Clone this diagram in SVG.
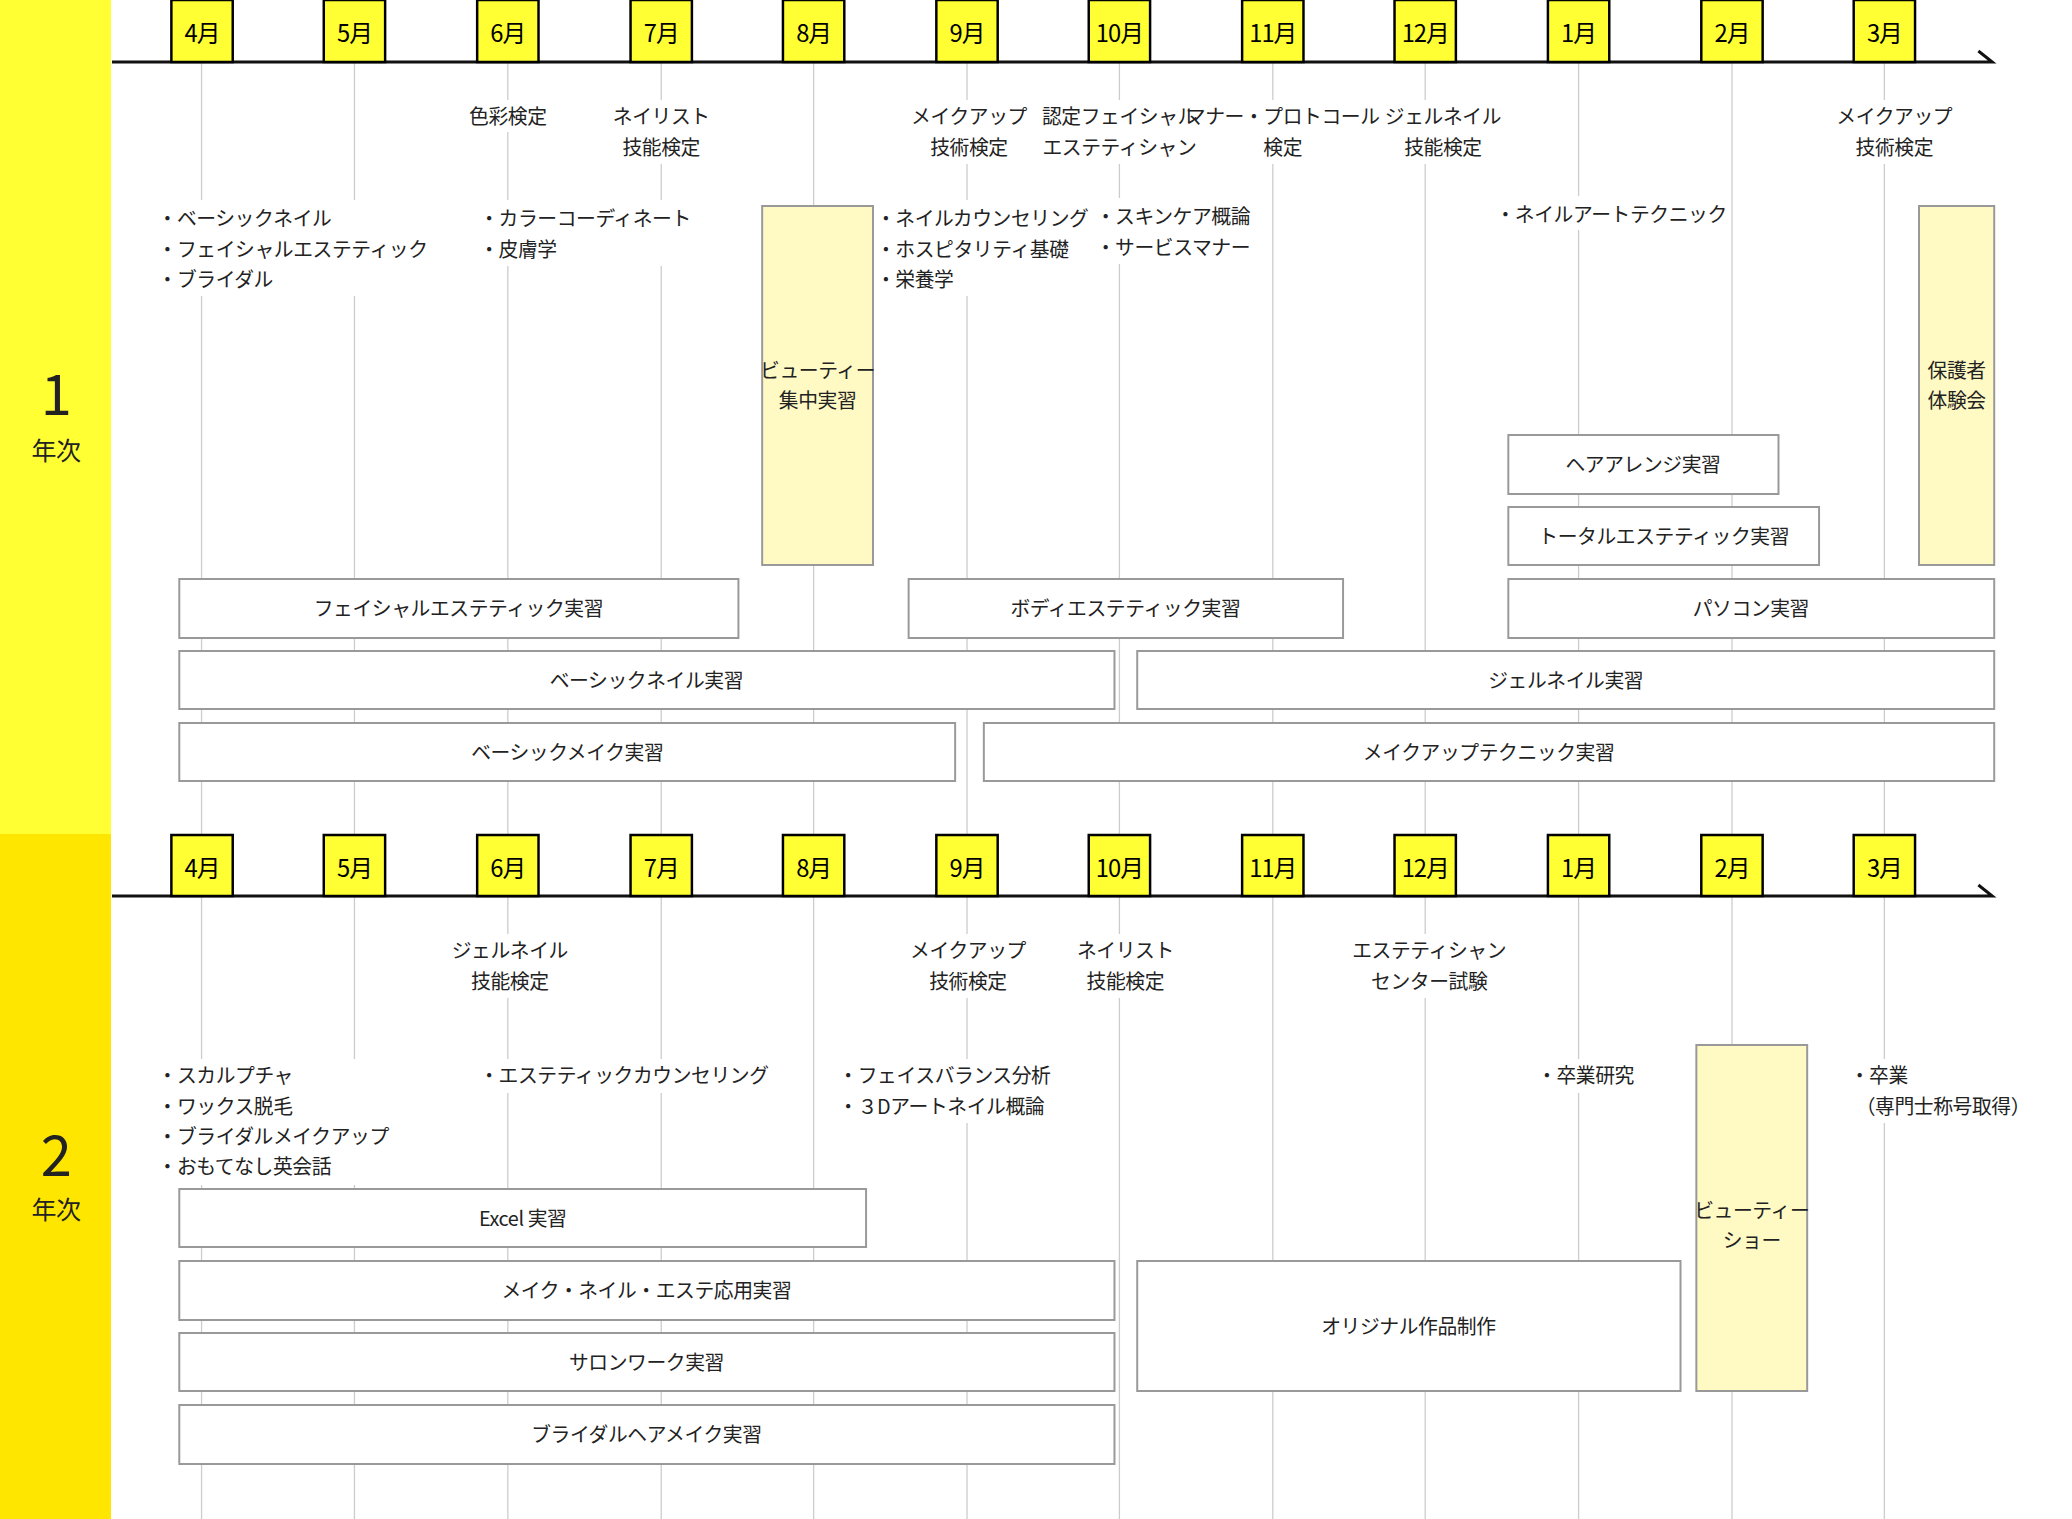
<svg xmlns="http://www.w3.org/2000/svg" width="2072" height="1519" viewBox="0 0 2072 1519">
<style>
text{font-family:"Noto Sans CJK JP","Noto Sans",sans-serif;font-size:20px;fill:#222;letter-spacing:-0.4px}
.c{text-anchor:middle}
.m{font-size:24px;text-anchor:middle;fill:#000;letter-spacing:-1px}
.mb{fill:#ffff33;stroke:#000;stroke-width:2.5}
.g{stroke:#ccc;stroke-width:1.3}
.b{fill:#fff;stroke:#999;stroke-width:2}
.y{fill:#fff9c4;stroke:#999;stroke-width:2}
.ax{stroke:#111;stroke-width:3;fill:none}
.w{fill:#fff}
</style>
<rect width="2072" height="1519" fill="#fff"/>
<rect x="0" y="0" width="111" height="834" fill="#ffff33"/>
<rect x="0" y="834" width="111" height="685" fill="#ffe600"/>
<g id="labels">
<text x="56" y="415" class="c" style="font-size:56px">1</text>
<text x="56" y="460" class="c" style="font-size:25px">年次</text>
<text x="56" y="1176" class="c" style="font-size:56px">2</text>
<text x="56" y="1219" class="c" style="font-size:25px">年次</text>
</g>
<g transform="translate(112 0) scale(0.9896 1) translate(-112 0)">
<g id="grid">
<g class="g">
<line x1="202.5" y1="62" x2="202.5" y2="834"/><line x1="357" y1="62" x2="357" y2="834"/><line x1="512" y1="62" x2="512" y2="834"/><line x1="667" y1="62" x2="667" y2="834"/><line x1="821" y1="62" x2="821" y2="834"/><line x1="976" y1="62" x2="976" y2="834"/><line x1="1130" y1="62" x2="1130" y2="834"/><line x1="1285" y1="62" x2="1285" y2="834"/><line x1="1439" y1="62" x2="1439" y2="834"/><line x1="1594" y1="62" x2="1594" y2="834"/><line x1="1749" y1="62" x2="1749" y2="834"/><line x1="1903" y1="62" x2="1903" y2="834"/>
<line x1="202.5" y1="896" x2="202.5" y2="1519"/><line x1="357" y1="896" x2="357" y2="1519"/><line x1="512" y1="896" x2="512" y2="1519"/><line x1="667" y1="896" x2="667" y2="1519"/><line x1="821" y1="896" x2="821" y2="1519"/><line x1="976" y1="896" x2="976" y2="1519"/><line x1="1130" y1="896" x2="1130" y2="1519"/><line x1="1285" y1="896" x2="1285" y2="1519"/><line x1="1439" y1="896" x2="1439" y2="1519"/><line x1="1594" y1="896" x2="1594" y2="1519"/><line x1="1749" y1="896" x2="1749" y2="1519"/><line x1="1903" y1="896" x2="1903" y2="1519"/>
</g>
</g>
<g id="axes">
<path class="ax" d="M112 62H2012L1998 51"/>
<path class="ax" d="M112 896H2012L1998 885"/>
</g>
<g id="months1">
<rect class="mb" x="172" y="0" width="62" height="62"/><text class="m" x="203" y="42">4月</text>
<rect class="mb" x="326" y="0" width="62" height="62"/><text class="m" x="357" y="42">5月</text>
<rect class="mb" x="481" y="0" width="62" height="62"/><text class="m" x="512" y="42">6月</text>
<rect class="mb" x="636" y="0" width="62" height="62"/><text class="m" x="667" y="42">7月</text>
<rect class="mb" x="790" y="0" width="62" height="62"/><text class="m" x="821" y="42">8月</text>
<rect class="mb" x="945" y="0" width="62" height="62"/><text class="m" x="976" y="42">9月</text>
<rect class="mb" x="1099" y="0" width="62" height="62"/><text class="m" x="1130" y="42">10月</text>
<rect class="mb" x="1254" y="0" width="62" height="62"/><text class="m" x="1285" y="42">11月</text>
<rect class="mb" x="1408" y="0" width="62" height="62"/><text class="m" x="1439" y="42">12月</text>
<rect class="mb" x="1563" y="0" width="62" height="62"/><text class="m" x="1594" y="42">1月</text>
<rect class="mb" x="1718" y="0" width="62" height="62"/><text class="m" x="1749" y="42">2月</text>
<rect class="mb" x="1872" y="0" width="62" height="62"/><text class="m" x="1903" y="42">3月</text>
</g>
<g id="months2">
<rect class="mb" x="172" y="835" width="62" height="61"/><text class="m" x="203" y="877">4月</text>
<rect class="mb" x="326" y="835" width="62" height="61"/><text class="m" x="357" y="877">5月</text>
<rect class="mb" x="481" y="835" width="62" height="61"/><text class="m" x="512" y="877">6月</text>
<rect class="mb" x="636" y="835" width="62" height="61"/><text class="m" x="667" y="877">7月</text>
<rect class="mb" x="790" y="835" width="62" height="61"/><text class="m" x="821" y="877">8月</text>
<rect class="mb" x="945" y="835" width="62" height="61"/><text class="m" x="976" y="877">9月</text>
<rect class="mb" x="1099" y="835" width="62" height="61"/><text class="m" x="1130" y="877">10月</text>
<rect class="mb" x="1254" y="835" width="62" height="61"/><text class="m" x="1285" y="877">11月</text>
<rect class="mb" x="1408" y="835" width="62" height="61"/><text class="m" x="1439" y="877">12月</text>
<rect class="mb" x="1563" y="835" width="62" height="61"/><text class="m" x="1594" y="877">1月</text>
<rect class="mb" x="1718" y="835" width="62" height="61"/><text class="m" x="1749" y="877">2月</text>
<rect class="mb" x="1872" y="835" width="62" height="61"/><text class="m" x="1903" y="877">3月</text>
</g>
<g id="exams1">
<rect class="w" x="465" y="100" width="94" height="32"/><text class="c" x="512" y="124">色彩検定</text>
<rect class="w" x="615" y="100" width="104" height="64"/><text class="c" x="667" y="124">ネイリスト</text><text class="c" x="667" y="155">技能検定</text>
<rect class="w" x="915" y="100" width="130" height="64"/><text class="c" x="978" y="124">メイクアップ</text><text class="c" x="978" y="155">技術検定</text>
<rect class="w" x="1060" y="100" width="144" height="64"/><text class="c" x="1130" y="124">認定フェイシャル</text><text class="c" x="1130" y="155">エステティシャン</text>
<rect class="w" x="1210" y="100" width="170" height="64"/><text class="c" x="1295" y="124">マナー・プロトコール</text><text class="c" x="1295" y="155">検定</text>
<rect class="w" x="1398" y="100" width="118" height="64"/><text class="c" x="1457" y="124">ジェルネイル</text><text class="c" x="1457" y="155">技能検定</text>
<rect class="w" x="1848" y="100" width="130" height="64"/><text class="c" x="1913" y="124">メイクアップ</text><text class="c" x="1913" y="155">技術検定</text>
</g>
<g id="subjects1">
<rect class="w" x="156" y="200" width="270" height="96"/>
<text x="158" y="226">・ベーシックネイル</text><text x="158" y="257">・フェイシャルエステティック</text><text x="158" y="287">・ブライダル</text>
<rect class="w" x="485" y="200" width="210" height="66"/>
<text x="483" y="226">・カラーコーディネート</text><text x="483" y="257">・皮膚学</text>
<rect class="w" x="888" y="200" width="210" height="96"/>
<text x="884" y="226">・ネイルカウンセリング</text><text x="884" y="257">・ホスピタリティ基礎</text><text x="884" y="287">・栄養学</text>
<rect class="w" x="1110" y="198" width="160" height="66"/>
<text x="1106" y="224">・スキンケア概論</text><text x="1106" y="255">・サービスマナー</text>
<rect class="w" x="1515" y="196" width="232" height="34"/>
<text x="1510" y="222">・ネイルアートテクニック</text>
</g>
<g id="tall1">
<rect class="y" x="769" y="206" width="112" height="359"/><text class="c" x="825" y="378">ビューティー</text><text class="c" x="825" y="408">集中実習</text>
<rect class="y" x="1938" y="206" width="76" height="359"/><text class="c" x="1976" y="378">保護者</text><text class="c" x="1976" y="408">体験会</text>
</g>
<g id="boxes1">
<rect class="b" x="1523" y="435" width="273" height="59"/><text class="c" x="1659" y="472">ヘアアレンジ実習</text>
<rect class="b" x="1523" y="507" width="314" height="58"/><text class="c" x="1680" y="544">トータルエステティック実習</text>
<rect class="b" x="180" y="579" width="565" height="59"/><text class="c" x="462" y="616">フェイシャルエステティック実習</text>
<rect class="b" x="917" y="579" width="439" height="59"/><text class="c" x="1136" y="616">ボディエステティック実習</text>
<rect class="b" x="1523" y="579" width="491" height="59"/><text class="c" x="1768" y="616">パソコン実習</text>
<rect class="b" x="180" y="651" width="945" height="58"/><text class="c" x="652" y="688">ベーシックネイル実習</text>
<rect class="b" x="1148" y="651" width="866" height="58"/><text class="c" x="1581" y="688">ジェルネイル実習</text>
<rect class="b" x="180" y="723" width="784" height="58"/><text class="c" x="572" y="760">ベーシックメイク実習</text>
<rect class="b" x="993" y="723" width="1021" height="58"/><text class="c" x="1503" y="760">メイクアップテクニック実習</text>
</g>
<g id="exams2">
<rect class="w" x="455" y="934" width="118" height="64"/><text class="c" x="514" y="958">ジェルネイル</text><text class="c" x="514" y="989">技能検定</text>
<rect class="w" x="912" y="934" width="130" height="64"/><text class="c" x="977" y="958">メイクアップ</text><text class="c" x="977" y="989">技術検定</text>
<rect class="w" x="1084" y="934" width="104" height="64"/><text class="c" x="1136" y="958">ネイリスト</text><text class="c" x="1136" y="989">技能検定</text>
<rect class="w" x="1363" y="934" width="160" height="64"/><text class="c" x="1443" y="958">エステティシャン</text><text class="c" x="1443" y="989">センター試験</text>
</g>
<g id="subjects2">
<rect class="w" x="156" y="1059" width="230" height="126"/>
<text x="158" y="1083">・スカルプチャ</text><text x="158" y="1114">・ワックス脱毛</text><text x="158" y="1144">・ブライダルメイクアップ</text><text x="158" y="1174">・おもてなし英会話</text>
<rect class="w" x="485" y="1059" width="290" height="34"/>
<text x="483" y="1083">・エステティックカウンセリング</text>
<rect class="w" x="848" y="1059" width="210" height="64"/>
<text x="846" y="1083">・フェイスバランス分析</text><text x="846" y="1114">・３Dアートネイル概論</text>
<rect class="w" x="1554" y="1059" width="100" height="34"/>
<text x="1552" y="1083">・卒業研究</text>
<rect class="w" x="1870" y="1059" width="175" height="64"/>
<text x="1868" y="1083">・卒業</text><text x="1874" y="1114">（専門士称号取得）</text>
</g>
<g id="boxes2">
<rect class="b" x="180" y="1189" width="694" height="58"/><text class="c" x="527" y="1226">Excel 実習</text>
<rect class="b" x="180" y="1261" width="945" height="59"/><text class="c" x="652" y="1298">メイク・ネイル・エステ応用実習</text>
<rect class="b" x="180" y="1333" width="945" height="58"/><text class="c" x="652" y="1370">サロンワーク実習</text>
<rect class="b" x="180" y="1405" width="945" height="59"/><text class="c" x="652" y="1442">ブライダルヘアメイク実習</text>
<rect class="b" x="1148" y="1261" width="549" height="130"/><text class="c" x="1422" y="1334">オリジナル作品制作</text>
<rect class="y" x="1713" y="1045" width="112" height="346"/><text class="c" x="1769" y="1218">ビューティー</text><text class="c" x="1769" y="1248">ショー</text>
</g>
</g>
</svg>
